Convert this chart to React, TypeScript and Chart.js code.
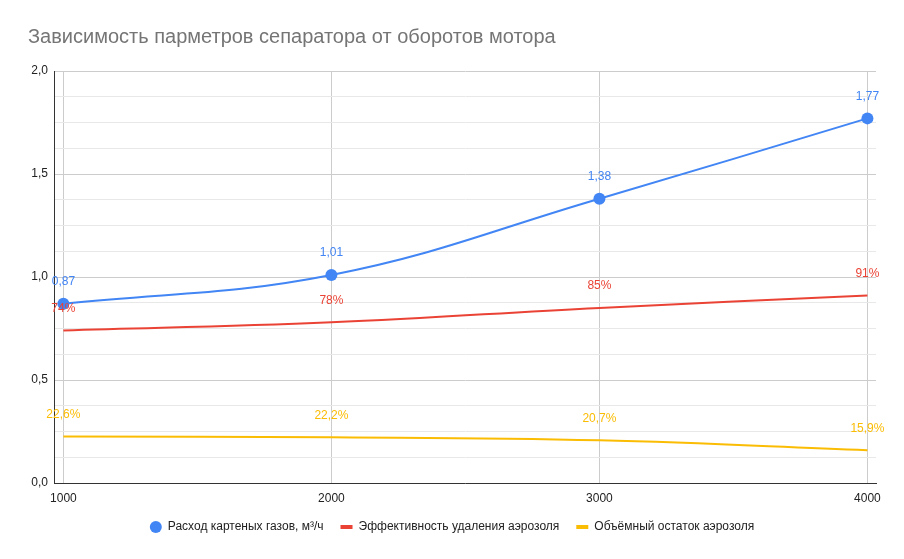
import { useEffect, useRef } from 'react'
import { Chart, registerables } from 'chart.js'

Chart.register(...registerables)

const rpm = [1000, 2000, 3000, 4000]
const gasFlow = [0.87, 1.01, 1.38, 1.77]
const efficiency = [0.74, 0.78, 0.85, 0.91]
const residue = [0.226, 0.222, 0.207, 0.159]

const comma = (v: number, d: number) => v.toFixed(d).replace('.', ',')

const FONT = 'Arial, "Liberation Sans", sans-serif'

// draws the value above every point, in the series colour
const valueLabels = {
  id: 'valueLabels',
  afterDatasetsDraw(chart: any) {
    const ctx = chart.ctx
    chart.data.datasets.forEach((ds: any, i: number) => {
      const meta = chart.getDatasetMeta(i)
      ctx.save()
      ctx.font = `12px ${FONT}`
      ctx.fillStyle = ds.borderColor
      ctx.textAlign = 'center'
      ctx.textBaseline = 'middle'
      meta.data.forEach((pt: any, j: number) => {
        ctx.fillText(ds.fmt(ds.data[j].y), pt.x, pt.y - 22)
      })
      ctx.restore()
    })
  },
}

export default function App() {
  const ref = useRef<HTMLCanvasElement>(null)
  const chartRef = useRef<Chart | null>(null)

  useEffect(() => {
    document.body.style.margin = '0'
    if (!ref.current) return
    if (chartRef.current) chartRef.current.destroy()

    const pts = (vals: number[]) => vals.map((y, i) => ({ x: rpm[i], y }))

    chartRef.current = new Chart(ref.current, {
      type: 'line',
      data: {
        datasets: [
          {
            label: 'Расход картеных газов, м³/ч',
            data: pts(gasFlow),
            borderColor: '#4285f4',
            backgroundColor: '#4285f4',
            borderWidth: 2,
            pointRadius: 6,
            pointHoverRadius: 6,
            pointBorderWidth: 0,
            tension: 0.4,
            fmt: (v: number) => comma(v, 2),
          } as any,
          {
            label: 'Эффективность удаления аэрозоля',
            data: pts(efficiency),
            borderColor: '#ea4335',
            backgroundColor: '#ea4335',
            borderWidth: 2,
            pointRadius: 0,
            tension: 0.4,
            fmt: (v: number) => Math.round(v * 100) + '%',
          } as any,
          {
            label: 'Объёмный остаток аэрозоля',
            data: pts(residue),
            borderColor: '#fbbc04',
            backgroundColor: '#fbbc04',
            borderWidth: 2,
            pointRadius: 0,
            tension: 0.4,
            fmt: (v: number) => comma(v * 100, 1) + '%',
          } as any,
        ],
      },
      options: {
        responsive: true,
        maintainAspectRatio: false,
        animation: false,
        layout: { padding: { left: 28, right: 28, top: 0, bottom: 16 } },
        scales: {
          x: {
            type: 'linear',
            min: 965,
            max: 4032,
            afterBuildTicks: (scale: any) => {
              scale.ticks = rpm.map((v) => ({ value: v }))
            },
            afterFit: (scale: any) => {
              scale.height = 21
            },
            grid: { color: '#cccccc', drawTicks: false },
            border: { color: '#333333' },
            ticks: {
              color: '#222222',
              font: { size: 12, family: FONT },
              padding: 8,
              maxRotation: 0,
              callback: (v: any) => String(v),
            },
          },
          y: {
            min: 0,
            max: 2,
            afterFit: (scale: any) => {
              scale.width = 26
            },
            grid: {
              drawTicks: false,
              color: (c: any) =>
                Math.abs((c.tick.value / 0.5) - Math.round(c.tick.value / 0.5)) < 1e-6
                  ? '#cccccc'
                  : '#e8e8e8',
            },
            border: { color: '#333333' },
            ticks: {
              stepSize: 0.125,
              autoSkip: false,
              color: '#222222',
              font: { size: 12, family: FONT },
              padding: 6,
              callback: (v: any) =>
                Math.abs(v / 0.5 - Math.round(v / 0.5)) < 1e-6 ? comma(v, 1) : '',
            },
          },
        },
        plugins: {
          title: {
            display: true,
            text: 'Зависимость парметров сепаратора от оборотов мотора',
            align: 'start',
            color: '#757575',
            font: { size: 20, family: FONT, weight: 'normal' },
            padding: { top: 25, bottom: 22 },
          },
          legend: {
            position: 'bottom',
            labels: {
              usePointStyle: true,
              boxHeight: 8.5,
              padding: 17,
              color: '#222222',
              font: { size: 12, family: FONT },
              generateLabels: (chart: any) =>
                chart.data.datasets.map((ds: any, i: number) => ({
                  text: ds.label,
                  datasetIndex: i,
                  fillStyle: ds.borderColor,
                  strokeStyle: ds.borderColor,
                  fontColor: '#222222',
                  lineWidth: i === 0 ? 0 : 4,
                  pointStyle: i === 0 ? 'circle' : 'line',
                  hidden: false,
                })),
            },
          },
          tooltip: { enabled: false },
        },
      },
      plugins: [valueLabels],
    })

    return () => {
      chartRef.current?.destroy()
    }
  }, [])

  return (
    <div style={{ position: 'relative', width: 904, height: 559 }}>
      <canvas ref={ref} />
    </div>
  )
}
